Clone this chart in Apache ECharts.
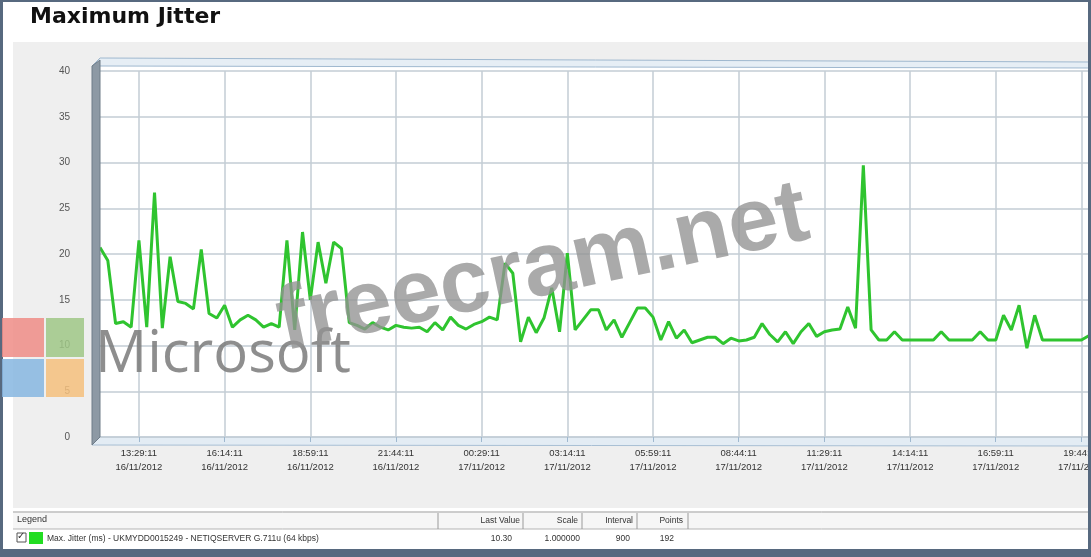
<!DOCTYPE html>
<html>
<head>
<meta charset="utf-8">
<script src="https://cdn.jsdelivr.net/npm/echarts@6/dist/echarts.min.js"></script>
<style>
html,body{margin:0;padding:0;background:#fff;}
#chart{width:1091px;height:557px;}
</style>
</head>
<body>
<div id="chart"></div>
<script>
// ---- data ----
const startTime = [12, 14, 11];      // 16/11/2012 12:14:11, one point every 900 s
const tickTimes = ['13:29:11','16:14:11','18:59:11','21:44:11','00:29:11','03:14:11','05:59:11','08:44:11','11:29:11','14:14:11','16:59:11','19:44:11'];
const tickDates = ['16/11/2012','16/11/2012','16/11/2012','16/11/2012','17/11/2012','17/11/2012','17/11/2012','17/11/2012','17/11/2012','17/11/2012','17/11/2012','17/11/2012'];
const jitter = [
  20.7, 19.3, 12.4, 12.6, 12.0, 21.5, 12.0, 26.7, 11.9, 19.7,
  14.8, 14.6, 14.0, 20.5, 13.5, 13.0, 14.4, 12.0, 12.8, 13.3,
  12.8, 12.0, 12.4, 12.0, 21.5, 11.7, 22.4, 15.0, 21.3, 16.8,
  21.3, 20.6, 12.5, 12.2, 11.8, 12.5, 12.0, 11.7, 12.2, 12.0,
  11.9, 12.0, 11.5, 12.5, 11.7, 13.1, 12.2, 11.8, 12.3, 12.6,
  13.1, 12.8, 19.0, 17.9, 10.4, 13.1, 11.4, 13.0, 16.3, 11.5,
  20.1, 11.7, 12.8, 13.9, 13.9, 11.7, 12.8, 10.9, 12.5, 14.1,
  14.1, 13.1, 10.6, 12.6, 10.8, 11.7, 10.3, 10.6, 10.9, 10.9,
  10.2, 10.8, 10.5, 10.6, 10.9, 12.4, 11.2, 10.4, 11.5, 10.2,
  11.5, 12.4, 11.0, 11.5, 11.7, 11.8, 14.2, 11.9, 29.7, 11.7,
  10.6, 10.6, 11.5, 10.6, 10.6, 10.6, 10.6, 10.6, 11.5, 10.6,
  10.6, 10.6, 10.6, 11.5, 10.6, 10.6, 13.3, 11.7, 14.4, 9.7,
  13.3, 10.6, 10.6, 10.6, 10.6, 10.6, 10.6, 11.1, 10.5
];
const legendHeaders = ['Last Value','Scale','Interval','Points'];
const legendValues = ['10.30','1.000000','900','192'];
const seriesName = 'Max. Jitter (ms) - UKMYDD0015249 - NETIQSERVER G.711u (64 kbps)';

// categories: timestamps every 15 minutes
const pad = n => (n < 10 ? '0' : '') + n;
const categories = jitter.map((v, i) => {
  let mins = startTime[0] * 60 + startTime[1] + i * 15;
  mins = mins % (24 * 60);
  return pad(Math.floor(mins / 60)) + ':' + pad(mins % 60) + ':' + pad(startTime[2]);
});
const isTick = i => i >= 5 && (i - 5) % 11 === 0;

const chart = echarts.init(document.getElementById('chart'));
const gridColor = '#c3ccd4';

const graphics = [
  // page frame
  { type: 'rect', z: -20, shape: { x: 0, y: 0, width: 1091, height: 557 }, style: { fill: '#ffffff' } },
  { type: 'rect', z: -19, shape: { x: 13, y: 42, width: 1078, height: 466 }, style: { fill: '#efefef' } },
  { type: 'rect', z: -18, shape: { x: 100, y: 62, width: 991, height: 375 }, style: { fill: '#ffffff' } },
  // 3D top band
  { type: 'polygon', z: -17, shape: { points: [[92, 66], [100, 58], [1091, 62], [1091, 68], [100, 66]] }, style: { fill: '#e6eef5', stroke: '#9fb8cf', lineWidth: 1 } },
  // left wall
  { type: 'polygon', z: 5, shape: { points: [[92, 66], [100, 60], [100, 437], [92, 445]] }, style: { fill: '#8d99a4', stroke: '#6f7c88', lineWidth: 1 } },
  // floor
  { type: 'polygon', z: -17, shape: { points: [[92, 445], [100, 437], [1091, 437], [1091, 446]] }, style: { fill: '#e3ecf4', stroke: '#a8bfd4', lineWidth: 1 } },
  // title
  { type: 'text', z: 10, left: 30, top: 6, style: { text: 'Maximum Jitter', font: 'bold 22px "DejaVu Sans", sans-serif', fill: '#111' } },
  // legend table
  { type: 'line', z: 10, shape: { x1: 13, y1: 512, x2: 1091, y2: 512 }, style: { stroke: '#9a9a9a', lineWidth: 1 } },
  { type: 'rect', z: 9, shape: { x: 13, y: 513, width: 1078, height: 16 }, style: { fill: '#f6f6f6' } },
  { type: 'line', z: 10, shape: { x1: 13, y1: 529, x2: 1091, y2: 529 }, style: { stroke: '#b5b5b5', lineWidth: 1 } },
  { type: 'rect', z: 9, shape: { x: 13, y: 530, width: 1078, height: 18 }, style: { fill: '#ffffff' } },
  { type: 'text', z: 10, left: 17, top: 515, style: { text: 'Legend', font: '9px "Liberation Sans", sans-serif', fill: '#333' } },
  { type: 'rect', z: 10, shape: { x: 17, y: 533, width: 9, height: 9 }, style: { fill: '#fff', stroke: '#555', lineWidth: 1 } },
  { type: 'text', z: 11, left: 17, top: 531, style: { text: '✓', font: 'bold 10px "DejaVu Sans", sans-serif', fill: '#333' } },
  { type: 'rect', z: 10, shape: { x: 29, y: 532, width: 14, height: 12 }, style: { fill: '#22dd22' } },
  { type: 'text', z: 10, left: 47, top: 534, style: { text: seriesName, font: '8.5px "Liberation Sans", sans-serif', fill: '#333' } },
  // bottom & side borders
  { type: 'rect', z: 20, shape: { x: 0, y: 549, width: 1091, height: 8 }, style: { fill: '#57697f' } },
  { type: 'rect', z: 20, shape: { x: 0, y: 0, width: 3, height: 557 }, style: { fill: '#57697f' } },
  { type: 'rect', z: 20, shape: { x: 0, y: 0, width: 1091, height: 2 }, style: { fill: '#57697f' } },
  { type: 'rect', z: 20, shape: { x: 1088, y: 0, width: 3, height: 557 }, style: { fill: '#57697f' } },
  // watermarks
  { type: 'rect', z: 30, shape: { x: 2, y: 318, width: 42, height: 39 }, style: { fill: '#ee8c86', opacity: 0.85 } },
  { type: 'rect', z: 30, shape: { x: 46, y: 318, width: 38, height: 39 }, style: { fill: '#9fc786', opacity: 0.85 } },
  { type: 'rect', z: 30, shape: { x: 2, y: 359, width: 42, height: 38 }, style: { fill: '#86b6e0', opacity: 0.85 } },
  { type: 'rect', z: 30, shape: { x: 46, y: 359, width: 38, height: 38 }, style: { fill: '#f5bf7c', opacity: 0.85 } },
  { type: 'text', z: 30, left: 95, top: 326, style: { text: 'Microsoft', font: '58px "Open Sans", "Liberation Sans", sans-serif', fill: '#7a7a7a', opacity: 0.85 } },
  { type: 'text', z: 30, x: 543, y: 270, rotation: 0.21, style: { text: 'freecram.net', font: 'bold 90px "Liberation Sans", Arial, sans-serif', fill: '#929292', opacity: 0.78, align: 'center', verticalAlign: 'middle' } }
];

legendHeaders.forEach((t, k) => {
  const right = [520, 578, 633, 683][k];
  graphics.push({ type: 'text', z: 10, x: right, y: 521, style: { text: t, font: '8.5px "Liberation Sans", sans-serif', fill: '#333', align: 'right', verticalAlign: 'middle' } });
  graphics.push({ type: 'text', z: 10, x: [512, 580, 630, 674][k], y: 539, style: { text: legendValues[k], font: '8.5px "Liberation Sans", sans-serif', fill: '#333', align: 'right', verticalAlign: 'middle' } });
});
[438, 523, 582, 637, 688].forEach(x => {
  graphics.push({ type: 'line', z: 10, shape: { x1: x, y1: 513, x2: x, y2: 529 }, style: { stroke: '#9a9a9a', lineWidth: 1 } });
});

chart.setOption({
  animation: false,
  backgroundColor: '#ffffff',
  graphic: graphics,
  grid: { left: 100, width: 997, top: 71, height: 366, containLabel: false, outerBoundsMode: 'none' },
  xAxis: {
    type: 'category',
    data: categories,
    boundaryGap: false,
    axisLine: { show: false },
    axisTick: { show: true, interval: isTick, length: 5, lineStyle: { color: '#9fb8cf' } },
    splitLine: { show: true, interval: isTick, lineStyle: { color: gridColor, width: 1.5 } },
    axisLabel: {
      interval: isTick,
      margin: 9,
      color: '#333',
      fontSize: 9.5,
      lineHeight: 14,
      fontFamily: '"Liberation Sans", sans-serif',
      formatter: (v, i) => {
        const k = (i - 5) / 11;
        return tickTimes[k] + '\n' + tickDates[k];
      }
    }
  },
  yAxis: {
    type: 'value',
    min: 0, max: 40, interval: 5,
    axisLine: { show: false },
    axisTick: { show: false },
    splitLine: { show: true, lineStyle: { color: gridColor, width: 1.5 } },
    axisLabel: { margin: 30, color: '#555', fontSize: 10, fontFamily: '"Liberation Sans", sans-serif' }
  },
  series: [{
    name: 'Max. Jitter',
    type: 'line',
    data: jitter,
    symbol: 'none',
    z: 3,
    lineStyle: { color: '#2fc42f', width: 3 },
    clip: false
  }]
});
</script>
</body>
</html>
